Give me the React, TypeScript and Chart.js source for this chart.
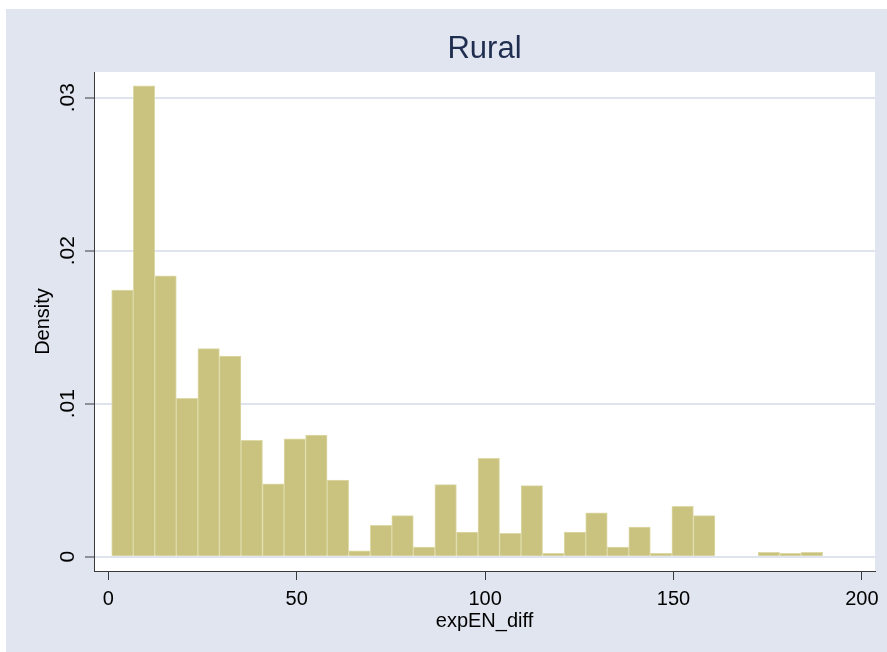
import React, { useEffect, useRef } from 'react';
import { Chart, registerables } from 'chart.js';

Chart.register(...registerables);

// Histogram bins (centres of bins, width ~5.72)
const binCenters = [
  3.76, 9.48, 15.19, 20.91, 26.63, 32.35, 38.07, 43.79, 49.5, 55.22, 60.94,
  66.66, 72.38, 78.09, 83.81, 89.53, 95.25, 100.97, 106.68, 112.4, 118.12,
  123.84, 129.56, 135.27, 140.99, 146.71, 152.43, 158.15, 163.86, 169.58,
  175.3, 181.02, 186.74,
];
const densities = [
  0.01743, 0.03078, 0.01835, 0.01035, 0.0136, 0.01312, 0.00761, 0.00477,
  0.00771, 0.00795, 0.00501, 0.00039, 0.00205, 0.00268, 0.00063, 0.00471,
  0.00161, 0.00643, 0.00153, 0.00464, 0.00022, 0.00161, 0.00286, 0.00063,
  0.00194, 0.00022, 0.00329, 0.00268, 0, 0, 0.00029, 0.00022, 0.00029,
];
const xTickValues = [0, 50, 100, 150, 200];
const xTickLabels = ['0', '50', '100', '150', '200'];
const yTickValues = [0, 0.01, 0.02, 0.03];
const yTickLabels = ['0', '.01', '.02', '.03'];
const chartTitle = 'Rural';
const xTitle = 'expEN_diff';
const yTitle = 'Density';

const BG = '#E0E5F0';
const GRID = '#DEE3EE';
const BAR = '#C9C37F';
const BAR_EDGE = '#DEDAA8';
const AXIS = '#3A3A3A';
const FONT = '"Liberation Sans", Arial, Helvetica, sans-serif';

export default function App() {
  const ref = useRef<HTMLCanvasElement>(null);

  useEffect(() => {
    document.body.style.margin = '0';
    const canvas = ref.current;
    if (!canvas) return;

    const bgPlugin = {
      id: 'stataBg',
      beforeDraw(chart: any) {
        const { ctx, width, height, chartArea } = chart;
        ctx.save();
        ctx.fillStyle = '#ffffff';
        ctx.fillRect(0, 0, width, height);
        ctx.fillStyle = BG;
        ctx.fillRect(6, 9, width - 6, height - 9);
        ctx.fillStyle = '#ffffff';
        ctx.fillRect(
          chartArea.left,
          chartArea.top,
          chartArea.right - chartArea.left,
          chartArea.bottom - chartArea.top
        );
        ctx.restore();
      },
    };

    const chart = new Chart(canvas, {
      type: 'bar',
      data: {
        datasets: [
          {
            data: binCenters.map((x, i) => ({ x, y: densities[i] })),
            backgroundColor: BAR,
            borderColor: BAR_EDGE,
            borderWidth: 1,
            barPercentage: 1,
            categoryPercentage: 1,
          },
        ],
      },
      options: {
        responsive: false,
        animation: false,
        layout: { padding: { left: 0, right: 12, top: 0, bottom: 0 } },
        plugins: {
          legend: { display: false },
          tooltip: { enabled: false },
          title: {
            display: true,
            text: chartTitle,
            fullSize: false,
            color: '#1F2D4F',
            font: { family: FONT, size: 31, weight: 'normal' },
            padding: { top: 30.4, bottom: 4.4 },
          },
        },
        scales: {
          x: {
            type: 'linear',
            min: -3.795,
            max: 203.48,
            offset: false,
            afterBuildTicks: (s: any) => {
              s.ticks = xTickValues.map((v) => ({ value: v }));
            },
            afterFit: (s: any) => {
              s.height = 81;
              s.paddingLeft = 0;
              s.paddingRight = 0;
            },
            ticks: {
              autoSkip: false,
              maxRotation: 0,
              minRotation: 0,
              padding: 7,
              color: '#000',
              font: { family: FONT, size: 20 },
              callback: (_v: any, i: number) => xTickLabels[i],
            },
            grid: {
              display: true,
              drawOnChartArea: false,
              offset: false,
              drawTicks: true,
              tickLength: 9,
              tickColor: AXIS,
              tickWidth: 1,
              color: AXIS,
            },
            border: { display: true, color: AXIS, width: 1 },
            title: {
              display: true,
              text: xTitle,
              color: '#000',
              font: { family: FONT, size: 20 },
              padding: { top: 0, bottom: 19 },
            },
          },
          y: {
            type: 'linear',
            min: -0.000935,
            max: 0.03168,
            afterBuildTicks: (s: any) => {
              s.ticks = yTickValues.map((v) => ({ value: v }));
            },
            afterFit: (s: any) => {
              s.width = 94;
              s.paddingTop = 0;
              s.paddingBottom = 0;
            },
            ticks: {
              autoSkip: false,
              minRotation: 90,
              maxRotation: 90,
              crossAlign: 'center',
              padding: 2,
              color: '#000',
              font: { family: FONT, size: 21 },
              callback: (_v: any, i: number) => yTickLabels[i],
            },
            grid: {
              display: true,
              drawOnChartArea: true,
              color: GRID,
              lineWidth: 2,
              drawTicks: true,
              tickLength: 9,
              tickColor: AXIS,
              tickWidth: 1,
            },
            border: { display: true, color: AXIS, width: 1 },
            title: {
              display: true,
              text: yTitle,
              color: '#000',
              font: { family: FONT, size: 20 },
              padding: { top: 31, bottom: 0 },
            },
          },
        },
      } as any,
      plugins: [bgPlugin],
    });

    return () => chart.destroy();
  }, []);

  return (
    <div style={{ width: 887, height: 652 }}>
      <canvas ref={ref} width={887} height={652} style={{ display: 'block' }} />
    </div>
  );
}
